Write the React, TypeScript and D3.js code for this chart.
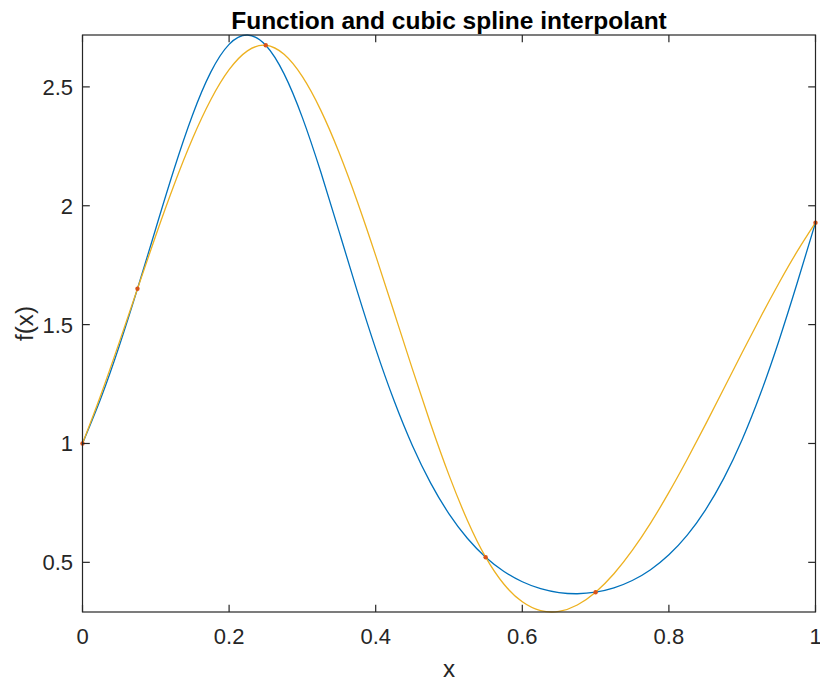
import React from "react";
import * as d3 from "d3";

// x grid shared by both sampled curves
const xGrid: number[] = [
  0, 0.025, 0.05, 0.075, 0.1, 0.125, 0.15, 0.175, 0.2, 0.225,
  0.25, 0.275, 0.3, 0.325, 0.35, 0.375, 0.4, 0.425, 0.45, 0.475,
  0.5, 0.525, 0.55, 0.575, 0.6, 0.625, 0.65, 0.675, 0.7, 0.725,
  0.75, 0.775, 0.8, 0.825, 0.85, 0.875, 0.9, 0.925, 0.95, 0.975, 1,
];

// function values (blue)
const fValues: number[] = [
  1.0, 1.1902, 1.409, 1.6507, 1.9045, 2.1545, 2.3808, 2.562, 2.679, 2.7183,
  2.6751, 2.5547, 2.3708, 2.1428, 1.8922, 1.6387, 1.3979, 1.1804, 0.9916, 0.8333,
  0.7041, 0.6014, 0.5217, 0.4617, 0.4183, 0.3892, 0.3728, 0.3679, 0.3744, 0.3926,
  0.4236, 0.4692, 0.5319, 0.6147, 0.721, 0.8543, 1.017, 1.21, 1.4314, 1.6748, 1.929,
];

// cubic spline interpolant values (yellow)
const splineValues: number[] = [
  1.0, 1.2042, 1.4241, 1.6507, 1.8752, 2.0885, 2.2817, 2.4459, 2.5722, 2.6515,
  2.6751, 2.6369, 2.543, 2.4023, 2.2239, 2.0169, 1.7902, 1.5528, 1.3138, 1.0822,
  0.8669, 0.6771, 0.5217, 0.4077, 0.3339, 0.297, 0.2936, 0.3205, 0.3744, 0.452,
  0.55, 0.6652, 0.7941, 0.9337, 1.0804, 1.2311, 1.3825, 1.5313, 1.6742, 1.8078, 1.929,
];

// interpolation nodes
const nodeX: number[] = [0, 0.075, 0.25, 0.55, 0.7, 1];
const nodeY: number[] = [1.0, 1.6507, 2.6751, 0.5217, 0.3744, 1.929];

const xTicks: number[] = [0, 0.2, 0.4, 0.6, 0.8, 1];
const yTicks: number[] = [0.5, 1, 1.5, 2, 2.5];
const xTickLabels: string[] = ["0", "0.2", "0.4", "0.6", "0.8", "1"];
const yTickLabels: string[] = ["0.5", "1", "1.5", "2", "2.5"];

const yMin = 0.2911;
const yMax = 2.71828;

const W = 820;
const H = 681;
const L = 82.5;
const R = 815.5;
const T = 35;
const B = 612;

const FONT = "'Liberation Sans', Arial, Helvetica, sans-serif";
const AX = "#262626";

export default function App() {
  const x = d3.scaleLinear().domain([0, 1]).range([L, R]);
  const y = d3.scaleLinear().domain([yMin, yMax]).range([B, T]);

  const line = d3
    .line<[number, number]>()
    .x((d) => x(d[0]))
    .y((d) => y(d[1]))
    .curve(d3.curveNatural);

  const fPts: [number, number][] = xGrid.map((v, i) => [v, fValues[i]]);
  const sPts: [number, number][] = xGrid.map((v, i) => [v, splineValues[i]]);

  const tl = 7.3;

  return (
    <svg
      width={W}
      height={H}
      style={{ position: "absolute", left: 0, top: 0, background: "#fff" }}
      fontFamily={FONT}
    >
      <rect x={0} y={0} width={W} height={H} fill="#fff" />
      <text
        x={(L + R) / 2}
        y={28.5}
        textAnchor="middle"
        fontSize={24.5}
        fontWeight="bold"
        fill="#000"
      >
        Function and cubic spline interpolant
      </text>

      <path d={line(fPts) || ""} fill="none" stroke="#0072BD" strokeWidth={1.3} />
      <path d={line(sPts) || ""} fill="none" stroke="#EDB120" strokeWidth={1.3} />
      {nodeX.map((v, i) => (
        <circle key={i} cx={x(v)} cy={y(nodeY[i])} r={2.2} fill="#D95319" />
      ))}

      {/* axes box */}
      <rect x={L} y={T} width={R - L} height={B - T} fill="none" stroke={AX} strokeWidth={1.2} />

      {xTicks.map((t, i) => (
        <g key={"xt" + i}>
          <line x1={x(t)} x2={x(t)} y1={B} y2={B - tl} stroke={AX} strokeWidth={1.2} />
          <line x1={x(t)} x2={x(t)} y1={T} y2={T + tl} stroke={AX} strokeWidth={1.2} />
          <text x={x(t)} y={644} textAnchor="middle" fontSize={22} fill={AX}>
            {xTickLabels[i]}
          </text>
        </g>
      ))}
      {yTicks.map((t, i) => (
        <g key={"yt" + i}>
          <line x1={L} x2={L + tl} y1={y(t)} y2={y(t)} stroke={AX} strokeWidth={1.2} />
          <line x1={R} x2={R - tl} y1={y(t)} y2={y(t)} stroke={AX} strokeWidth={1.2} />
          <text x={73} y={y(t) + 7.9} textAnchor="end" fontSize={22} fill={AX}>
            {yTickLabels[i]}
          </text>
        </g>
      ))}

      <text x={(L + R) / 2} y={677} textAnchor="middle" fontSize={24.2} fill={AX}>
        x
      </text>
      <text
        transform={`translate(33, ${(T + B) / 2}) rotate(-90)`}
        textAnchor="middle"
        fontSize={24.2}
        fill={AX}
      >
        f(x)
      </text>
    </svg>
  );
}
